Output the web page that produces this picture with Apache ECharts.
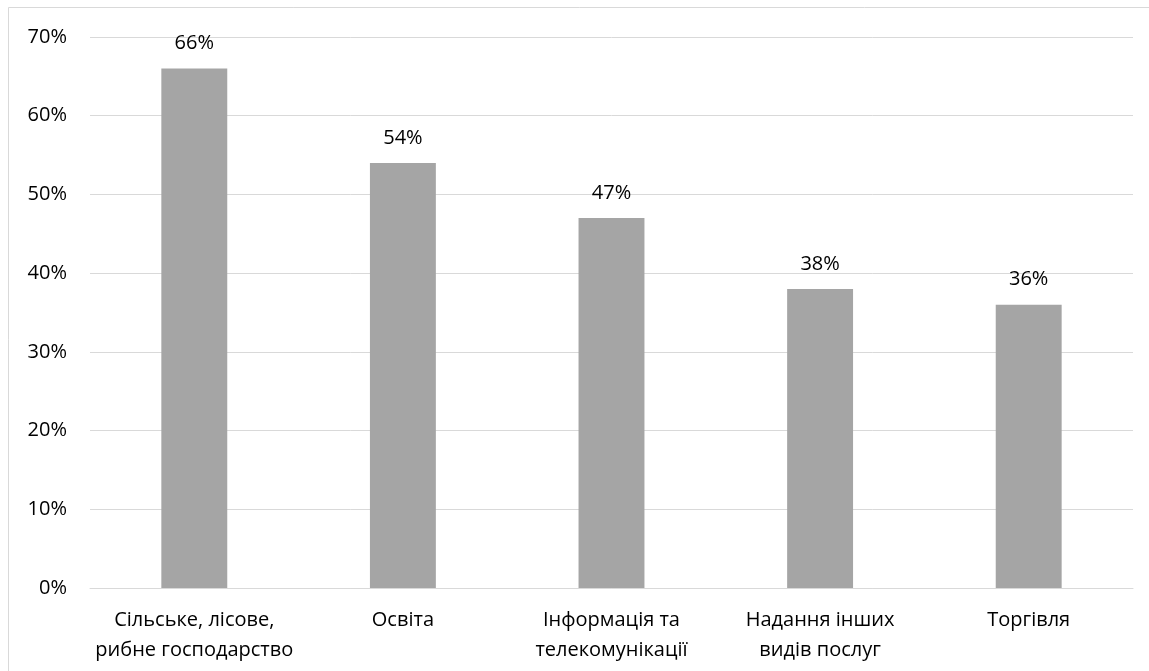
<!DOCTYPE html>
<html>
<head>
<meta charset="utf-8">
<script src="https://cdn.jsdelivr.net/npm/echarts@6/dist/echarts.min.js"></script>
<style>
  html, body { margin: 0; padding: 0; background: #fff; }
  #chart { width: 1149px; height: 671px; }
</style>
</head>
<body>
<div id="chart"></div>
<script>
// Share of enterprises by sector
const categories = [
  'Сільське, лісове,\nрибне господарство',
  'Освіта',
  'Інформація та\nтелекомунікації',
  'Надання інших\nвидів послуг',
  'Торгівля'
];
const values = [66, 54, 47, 38, 36];
const yTicks = [0, 10, 20, 30, 40, 50, 60, 70];

const font = '"Open Sans", "Noto Sans", sans-serif';
const chart = echarts.init(document.getElementById('chart'), null, { renderer: 'canvas' });

chart.setOption({
  animation: false,
  backgroundColor: '#fff',
  graphic: [{
    type: 'rect',
    shape: { x: 8.5, y: 7.5, width: 1200, height: 700 },
    style: { fill: 'none', stroke: '#d9d9d9', lineWidth: 1 },
    silent: true
  }],
  grid: { left: 90, right: 16, top: 37, bottom: 83, containLabel: false },
  xAxis: {
    type: 'category',
    data: categories,
    axisLine: { show: true, lineStyle: { color: '#d9d9d9', width: 1 } },
    axisTick: { show: false },
    axisLabel: {
      interval: 0,
      color: '#000',
      fontFamily: font,
      fontSize: 20,
      lineHeight: 30,
      margin: 17
    }
  },
  yAxis: {
    type: 'value',
    min: yTicks[0],
    max: yTicks[yTicks.length - 1],
    interval: 10,
    axisLine: { show: false },
    axisTick: { show: false },
    splitLine: { lineStyle: { color: '#d9d9d9', width: 1 } },
    axisLabel: {
      color: '#000',
      fontFamily: font,
      fontSize: 20,
      margin: 23,
      formatter: v => v + '%'
    }
  },
  series: [{
    type: 'bar',
    data: values,
    barWidth: '31.6%',
    itemStyle: { color: '#a5a5a5' },
    label: {
      show: true,
      position: 'top',
      distance: 15,
      color: '#000',
      fontFamily: font,
      fontSize: 20,
      formatter: p => p.value + '%'
    }
  }]
});
</script>
</body>
</html>
